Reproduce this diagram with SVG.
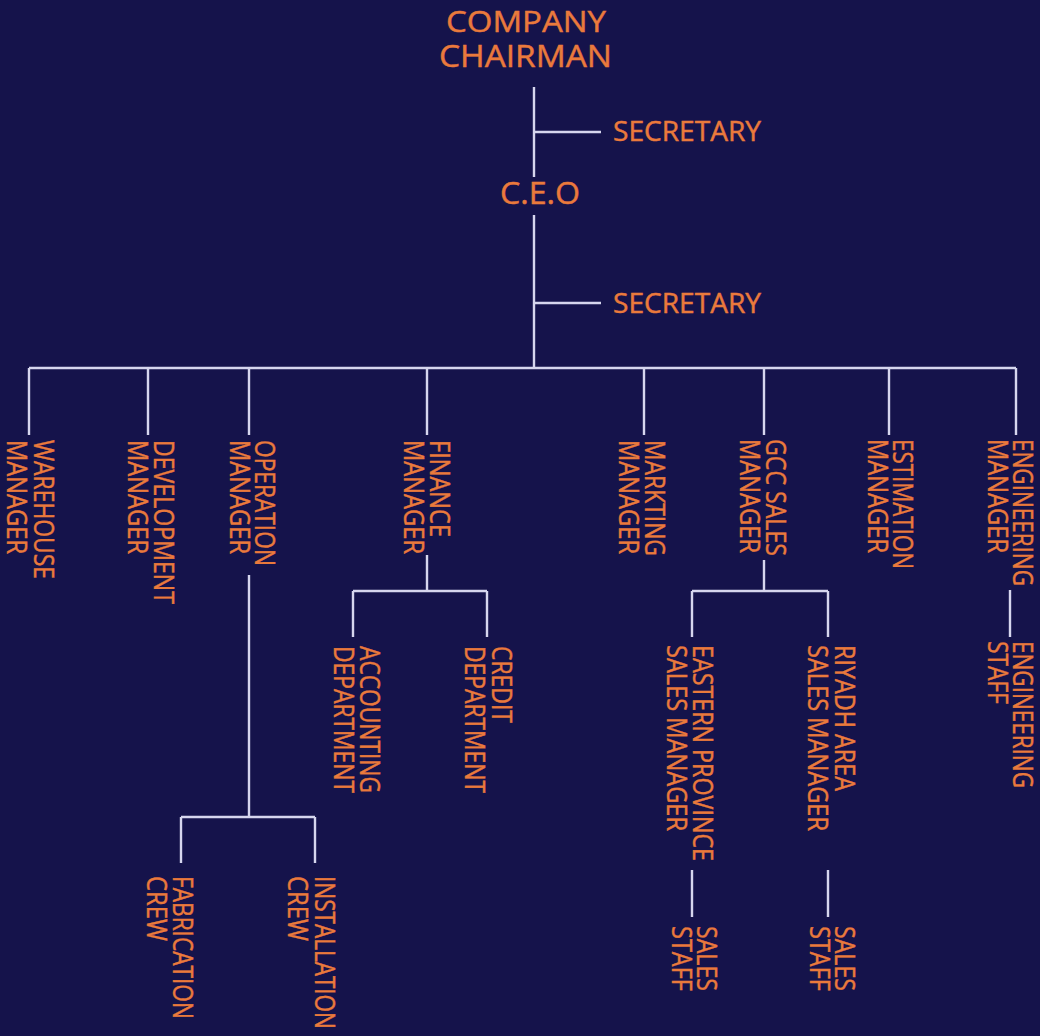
<svg xmlns="http://www.w3.org/2000/svg" width="1040" height="1036" viewBox="0 0 1040 1036">
<style>
.t{font-family:"Open Sans","Noto Sans",sans-serif;fill:#ea7a3c;stroke:#ea7a3c;stroke-width:0.45;}
.h{font-size:27px;}
.big{font-size:30px;}
.v{font-size:28px;}
.c path{stroke:#d6d6ee;stroke-width:2.4;fill:none;stroke-linecap:butt;}
</style>
<rect width="1040" height="1036" fill="#15134b"/>
<g class="c" id="connectors">
<path d="M534 87V177M534 132H601"/>
<path d="M534 215V368M534 303H601"/>
<path d="M29 368H1016"/>
<path d="M29 368V435M148 368V435M249 368V435M427 368V435M644 368V435M764 368V435M889 368V435M1016 368V435"/>
<path d="M249 575V817M181 817H315M181 817V863M315 817V863"/>
<path d="M427 555V591M353 591H487M353 591V637M487 591V637"/>
<path d="M764 560V591M692 591H828M692 591V637M828 591V637"/>
<path d="M1010 590V637"/>
<path d="M692 870V917M828 870V917"/>
</g>
<g id="chairman"><text class="t big" x="446" y="32" textLength="160" lengthAdjust="spacingAndGlyphs">COMPANY</text><text class="t big" x="439" y="67" textLength="173" lengthAdjust="spacingAndGlyphs" style="font-size:31px">CHAIRMAN</text></g>
<g id="secretary1"><text class="t h" x="613" y="140.7" textLength="148" lengthAdjust="spacingAndGlyphs">SECRETARY</text></g>
<g id="ceo"><text class="t big" x="500" y="204" textLength="80" lengthAdjust="spacingAndGlyphs" style="font-size:31px">C.E.O</text></g>
<g id="secretary2"><text class="t h" x="613" y="313.3" textLength="148" lengthAdjust="spacingAndGlyphs">SECRETARY</text></g>
<g id="warehouse"><text class="t v" transform="translate(34 440) rotate(90)" textLength="139" lengthAdjust="spacingAndGlyphs">WAREHOUSE</text><text class="t v" transform="translate(7 440) rotate(90)" textLength="114" lengthAdjust="spacingAndGlyphs">MANAGER</text></g>
<g id="development"><text class="t v" transform="translate(154 440) rotate(90)" textLength="164" lengthAdjust="spacingAndGlyphs">DEVELOPMENT</text><text class="t v" transform="translate(128 440) rotate(90)" textLength="114" lengthAdjust="spacingAndGlyphs">MANAGER</text></g>
<g id="operation"><text class="t v" transform="translate(255 440) rotate(90)" textLength="126" lengthAdjust="spacingAndGlyphs">OPERATION</text><text class="t v" transform="translate(230 440) rotate(90)" textLength="114" lengthAdjust="spacingAndGlyphs">MANAGER</text></g>
<g id="finance"><text class="t v" transform="translate(430 440) rotate(90)" textLength="97" lengthAdjust="spacingAndGlyphs">FINANCE</text><text class="t v" transform="translate(404 440) rotate(90)" textLength="114" lengthAdjust="spacingAndGlyphs">MANAGER</text></g>
<g id="marketing"><text class="t v" transform="translate(645 440) rotate(90)" textLength="116" lengthAdjust="spacingAndGlyphs">MARKTING</text><text class="t v" transform="translate(619 440) rotate(90)" textLength="114" lengthAdjust="spacingAndGlyphs">MANAGER</text></g>
<g id="gccsales"><text class="t v" transform="translate(766 439) rotate(90)" textLength="117" lengthAdjust="spacingAndGlyphs">GCC SALES</text><text class="t v" transform="translate(740 439) rotate(90)" textLength="114" lengthAdjust="spacingAndGlyphs">MANAGER</text></g>
<g id="estimation"><text class="t v" transform="translate(893 439) rotate(90)" textLength="130" lengthAdjust="spacingAndGlyphs">ESTIMATION</text><text class="t v" transform="translate(868 439) rotate(90)" textLength="114" lengthAdjust="spacingAndGlyphs">MANAGER</text></g>
<g id="engineering"><text class="t v" transform="translate(1013 439) rotate(90)" textLength="147" lengthAdjust="spacingAndGlyphs">ENGINEERING</text><text class="t v" transform="translate(988 439) rotate(90)" textLength="114" lengthAdjust="spacingAndGlyphs">MANAGER</text></g>
<g id="accounting"><text class="t v" transform="translate(360 646) rotate(90)" textLength="147" lengthAdjust="spacingAndGlyphs">ACCOUNTING</text><text class="t v" transform="translate(334 646) rotate(90)" textLength="147" lengthAdjust="spacingAndGlyphs">DEPARTMENT</text></g>
<g id="credit"><text class="t v" transform="translate(492 646) rotate(90)" textLength="77" lengthAdjust="spacingAndGlyphs">CREDIT</text><text class="t v" transform="translate(465 646) rotate(90)" textLength="147" lengthAdjust="spacingAndGlyphs">DEPARTMENT</text></g>
<g id="eastern"><text class="t v" transform="translate(693 645) rotate(90)" textLength="216" lengthAdjust="spacingAndGlyphs">EASTERN PROVINCE</text><text class="t v" transform="translate(667 645) rotate(90)" textLength="186" lengthAdjust="spacingAndGlyphs">SALES MANAGER</text></g>
<g id="riyadh"><text class="t v" transform="translate(835 645) rotate(90)" textLength="146" lengthAdjust="spacingAndGlyphs">RIYADH AREA</text><text class="t v" transform="translate(808 645) rotate(90)" textLength="186" lengthAdjust="spacingAndGlyphs">SALES MANAGER</text></g>
<g id="engstaff"><text class="t v" transform="translate(1013 641) rotate(90)" textLength="147" lengthAdjust="spacingAndGlyphs">ENGINEERING</text><text class="t v" transform="translate(988 641) rotate(90)" textLength="63" lengthAdjust="spacingAndGlyphs">STAFF</text></g>
<g id="salesstaff1"><text class="t v" transform="translate(697 926) rotate(90)" textLength="65" lengthAdjust="spacingAndGlyphs">SALES</text><text class="t v" transform="translate(672 926) rotate(90)" textLength="65" lengthAdjust="spacingAndGlyphs">STAFF</text></g>
<g id="salesstaff2"><text class="t v" transform="translate(835 926) rotate(90)" textLength="65" lengthAdjust="spacingAndGlyphs">SALES</text><text class="t v" transform="translate(810 926) rotate(90)" textLength="65" lengthAdjust="spacingAndGlyphs">STAFF</text></g>
<g id="fabrication"><text class="t v" transform="translate(173 876) rotate(90)" textLength="143" lengthAdjust="spacingAndGlyphs">FABRICATION</text><text class="t v" transform="translate(147 876) rotate(90)" textLength="65" lengthAdjust="spacingAndGlyphs">CREW</text></g>
<g id="installation"><text class="t v" transform="translate(315 876) rotate(90)" textLength="153" lengthAdjust="spacingAndGlyphs">INSTALLATION</text><text class="t v" transform="translate(288 876) rotate(90)" textLength="65" lengthAdjust="spacingAndGlyphs">CREW</text></g>
</svg>
